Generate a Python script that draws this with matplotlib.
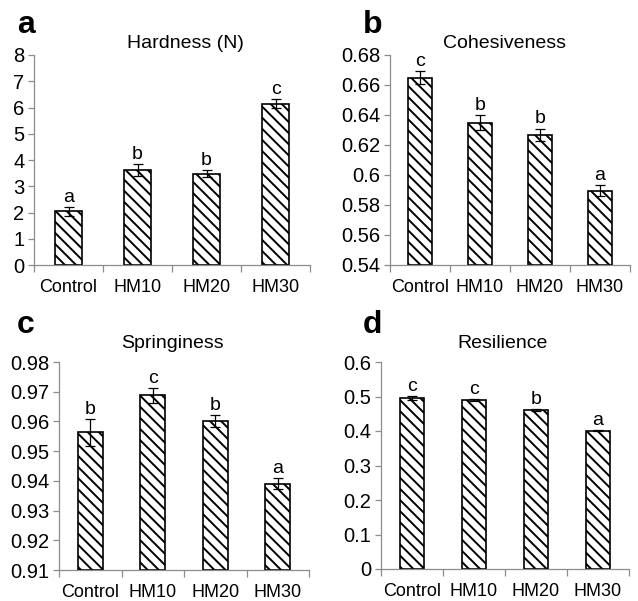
import numpy as np
import matplotlib
matplotlib.use('Agg')
import matplotlib.pyplot as plt

plt.rcParams['font.family'] = ['Liberation Sans', 'DejaVu Sans']
plt.rcParams['hatch.linewidth'] = 1.4

# Daten
groups = ['Control', 'HM10', 'HM20', 'HM30']

hardness = [2.05, 3.62, 3.48, 6.15]
hardness_err = [0.17, 0.23, 0.13, 0.17]
hardness_sig = ['a', 'b', 'b', 'c']

cohesiveness = [0.665, 0.635, 0.627, 0.5895]
cohesiveness_err = [0.0045, 0.0047, 0.004, 0.0038]
cohesiveness_sig = ['c', 'b', 'b', 'a']

springiness = [0.9563, 0.9688, 0.960, 0.939]
springiness_err = [0.0045, 0.0026, 0.002, 0.0018]
springiness_sig = ['b', 'c', 'b', 'a']

resilience = [0.496, 0.490, 0.461, 0.401]
resilience_err = [0.005, 0.004, 0.002, 0.002]
resilience_sig = ['c', 'c', 'b', 'a']

W, H = 638, 601
fig = plt.figure(figsize=(W / 100, H / 100), dpi=100)


def box(l, r, t, b):
    return [l / W, 1 - b / H, (r - l) / W, (b - t) / H]


panels = [
    ('a', 'Hardness (N)', hardness, hardness_err, hardness_sig,
     (0, 8), np.arange(0, 9, 1), box(34, 310, 55, 265), 185),
    ('b', 'Cohesiveness', cohesiveness, cohesiveness_err, cohesiveness_sig,
     (0.54, 0.68), np.arange(0.54, 0.681, 0.02), box(390, 630, 55, 265), 505),
    ('c', 'Springiness', springiness, springiness_err, springiness_sig,
     (0.91, 0.98), np.arange(0.91, 0.981, 0.01), box(59, 309, 362, 570), 172),
    ('d', 'Resilience', resilience, resilience_err, resilience_sig,
     (0, 0.6), np.arange(0, 0.61, 0.1), box(381, 629, 362, 569), 503),
]

grey = '#8c8c8c'
x = np.arange(len(groups))

for letter, title, vals, errs, sig, ylim, ticks, pos, tx in panels:
    ax = fig.add_axes(pos)
    base = ylim[0]
    heights = [v - base for v in vals]
    ax.bar(x, heights, bottom=base, width=0.4, color='white', edgecolor='black',
           linewidth=1.2, hatch='\\\\\\')
    ax.errorbar(x, vals, yerr=errs, fmt='none', ecolor='black', elinewidth=0.9,
                capsize=3.5, capthick=0.9)
    span = ylim[1] - ylim[0]
    for xi, v, e, s in zip(x, vals, errs, sig):
        ax.text(xi, v + e + span * 0.005, s, ha='center', va='bottom', fontsize=14)
    ax.set_xlim(-0.5, 3.5)
    ax.set_ylim(*ylim)
    ax.set_yticks(ticks)
    labels = [('%.2f' % t).rstrip('0').rstrip('.') for t in ticks]
    ax.set_yticklabels(labels, fontsize=14.5)
    ax.set_xticks(x)
    ax.set_xticklabels(groups, fontsize=13)
    ax.set_xticks(np.arange(-0.5, 4, 1), minor=True)
    ax.tick_params(axis='x', which='major', length=0, pad=10)
    ax.tick_params(axis='x', which='minor', length=5, color=grey, width=0.9)
    ax.tick_params(axis='y', length=4, color=grey, width=0.9, pad=3)
    for sp in ['top', 'right']:
        ax.spines[sp].set_visible(False)
    for sp in ['left', 'bottom']:
        ax.spines[sp].set_color(grey)
        ax.spines[sp].set_linewidth(0.9)
    ty = 43 if letter in 'ab' else 343
    fig.text(tx / W, 1 - ty / H, title, ha='center', va='center', fontsize=14)
    lx = 17 if letter in 'ac' else 363
    ly = 25 if letter in 'ab' else 325
    fig.text(lx / W, 1 - ly / H, letter, ha='left', va='center', fontsize=23,
             fontweight='bold')

fig.savefig('out.png', dpi=100)
